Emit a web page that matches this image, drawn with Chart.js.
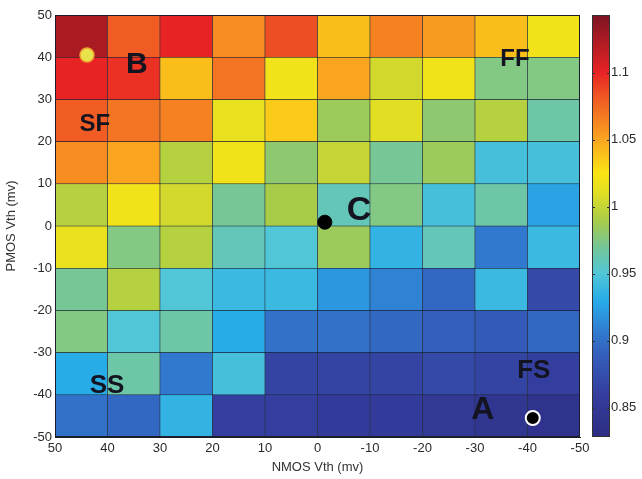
<!DOCTYPE html>
<html><head><meta charset="utf-8">
<script src="https://cdn.jsdelivr.net/npm/chart.js@4.4.1/dist/chart.umd.min.js"></script>
<style>html,body{margin:0;padding:0;background:#fff}#wrap{width:642px;height:479px;position:relative}</style>
</head><body><div id="wrap"><canvas id="c"></canvas></div>
<script>
// ---- data ----
const nmosCenters = [45, 35, 25, 15, 5, -5, -15, -25, -35, -45];   // x cell centres (mv)
const pmosCenters = [45, 35, 25, 15, 5, -5, -15, -25, -35, -45];   // y cell centres (mv)
const rowP45  = [1.125, 1.08, 1.10, 1.06, 1.085, 1.04, 1.065, 1.055, 1.04, 1.02];
const rowP35  = [1.10, 1.095, 1.04, 1.07, 1.02, 1.05, 1.005, 1.02, 0.975, 0.975];
const rowP25  = [1.08, 1.07, 1.065, 1.015, 1.035, 0.985, 1.01, 0.98, 0.995, 0.965];
const rowP15  = [1.06, 1.05, 0.995, 1.02, 0.98, 1.0, 0.97, 0.985, 0.945, 0.945];
const rowP5   = [0.995, 1.02, 1.005, 0.97, 0.99, 0.96, 0.975, 0.945, 0.965, 0.925];
const rowM5   = [1.015, 0.975, 0.995, 0.96, 0.95, 0.985, 0.935, 0.96, 0.905, 0.94];
const rowM15  = [0.97, 0.995, 0.95, 0.94, 0.94, 0.92, 0.91, 0.895, 0.94, 0.87];
const rowM25  = [0.975, 0.95, 0.965, 0.93, 0.9, 0.9, 0.895, 0.89, 0.885, 0.895];
const rowM35  = [0.93, 0.965, 0.905, 0.945, 0.865, 0.865, 0.865, 0.87, 0.865, 0.86];
const rowM45  = [0.9, 0.895, 0.935, 0.86, 0.86, 0.855, 0.855, 0.85, 0.845, 0.84];
const rows = [rowP45, rowP35, rowP25, rowP15, rowP5, rowM5, rowM15, rowM25, rowM35, rowM45];
const axisTicks = [50, 40, 30, 20, 10, 0, -10, -20, -30, -40, -50];
const cbTicks = [0.85, 0.9, 0.95, 1, 1.05, 1.1];
const cbMin = 0.828, cbMax = 1.143;
const markerYellow = [{x: 43.9, y: 40.5}];
const markerC = [{x: -1.4, y: 0.9}];
const markerA = [{x: -41, y: -45.5}];
const labelText = ['B', 'SF', 'FF', 'C', 'SS', 'FS', 'A'];
const labelX    = [34.4, 42.4, -37.6, -7.9, 40.1, -41.2, -31.5];
const labelY    = [38.2, 24.2, 39.6, 3.6, -37.9, -34.4, -43.6];
const labelSize = [30, 24, 24, 34, 26, 26, 32];

// ---- colormap ----
const stops = [
  [0.828, [45, 45, 130]],
  [0.86,  [52, 62, 158]],
  [0.89,  [52, 95, 188]],
  [0.91,  [48, 130, 212]],
  [0.93,  [40, 172, 232]],
  [0.95,  [80, 198, 215]],
  [0.97,  [118, 198, 150]],
  [0.99,  [168, 204, 72]],
  [1.01,  [225, 222, 35]],
  [1.025, [250, 228, 20]],
  [1.05,  [250, 165, 32]],
  [1.08,  [240, 92, 35]],
  [1.10,  [232, 35, 36]],
  [1.143, [125, 20, 35]]
];
function cmapArr(v) {
  if (v <= stops[0][0]) return stops[0][1];
  for (let i = 1; i < stops.length; i++) {
    if (v <= stops[i][0]) {
      const t = (v - stops[i-1][0]) / (stops[i][0] - stops[i-1][0]);
      const a = stops[i-1][1], b = stops[i][1];
      return [0,1,2].map(k => Math.round(a[k] + (b[k]-a[k]) * t));
    }
  }
  return stops[stops.length-1][1];
}
function cmap(v) { const c = cmapArr(v); return `rgb(${c[0]},${c[1]},${c[2]})`; }

const datasets = rows.map((row, i) => ({
  type: 'bar',
  data: nmosCenters.map((x) => ({x: x, y: [pmosCenters[i] - 5, pmosCenters[i] + 5]})),
  backgroundColor: row.map(cmap),
  borderColor: 'rgba(10,20,40,0.9)',
  borderWidth: 0.6,
  borderSkipped: false,
  grouped: false,
  barPercentage: 1,
  categoryPercentage: 1,
  order: 2
}));
datasets.push({type:'scatter', data: markerYellow, pointRadius: 7, pointBackgroundColor:'#e8e24c', pointBorderColor:'#f0a030', pointBorderWidth:1.5, order: 1});
datasets.push({type:'scatter', data: markerC, pointRadius: 7, pointBackgroundColor:'#000', pointBorderColor:'#000', pointBorderWidth:1, order: 1});
datasets.push({type:'scatter', data: markerA, pointRadius: 7, pointBackgroundColor:'#000', pointBorderColor:'#fff', pointBorderWidth:2, order: 1});

const tickFont = {family: 'Liberation Sans, Arial, sans-serif', size: 13};
const tickColor = '#2a2a2a';

const overlay = {
  id: 'overlay',
  afterDraw(chart) {
    const ctx = chart.ctx, ca = chart.chartArea;
    const xs = chart.scales.x, ys = chart.scales.y, cb = chart.scales.cb;
    ctx.save();
    // frame
    ctx.strokeStyle = '#1a1f2a'; ctx.lineWidth = 1;
    ctx.strokeRect(Math.round(ca.left) + 0.5, Math.round(ca.top) + 0.5, Math.round(ca.right - ca.left) - 1, Math.round(ca.bottom - ca.top) - 1);
    // letters
    ctx.fillStyle = '#141420';
    ctx.textAlign = 'center'; ctx.textBaseline = 'middle';
    for (let i = 0; i < labelText.length; i++) {
      ctx.font = `bold ${labelSize[i]}px "Liberation Sans", Arial, sans-serif`;
      ctx.fillText(labelText[i], xs.getPixelForValue(labelX[i]), ys.getPixelForValue(labelY[i]));
    }
    // colorbar
    const x0 = 592, x1 = 610;
    const yTop = cb.getPixelForValue(cbMax), yBot = cb.getPixelForValue(cbMin);
    const g = ctx.createLinearGradient(0, yBot, 0, yTop);
    stops.forEach(s => { const c = s[1]; g.addColorStop((s[0]-cbMin)/(cbMax-cbMin), `rgb(${c[0]},${c[1]},${c[2]})`); });
    ctx.fillStyle = g;
    ctx.fillRect(x0, yTop, x1 - x0, yBot - yTop);
    ctx.strokeStyle = '#333'; ctx.lineWidth = 1;
    ctx.strokeRect(x0 + 0.5, Math.round(yTop) + 0.5, x1 - x0 - 1, Math.round(yBot - yTop) - 1);
    cbTicks.forEach(v => {
      const py = Math.round(cb.getPixelForValue(v)) + 0.5;
      ctx.beginPath(); ctx.moveTo(x0, py); ctx.lineTo(x0 + 3, py); ctx.moveTo(x1 - 3, py); ctx.lineTo(x1, py); ctx.stroke();
    });
    ctx.restore();
  }
};

new Chart(document.getElementById('c'), {
  type: 'bar',
  data: {datasets},
  plugins: [overlay],
  options: {
    responsive: true, maintainAspectRatio: false, animation: false,
    layout: {padding: {top: 15, left: 0, right: 0, bottom: 0}},
    plugins: {legend: {display: false}, tooltip: {enabled: false}},
    scales: {
      x: {
        type: 'linear', reverse: true, min: -50, max: 50, offset: false,
        afterBuildTicks: s => { s.ticks = axisTicks.map(v => ({value: v})); },
        afterFit: s => { s.height = 42; },
        grid: {display: false, offset: false, drawTicks: false},
        border: {display: true, color: '#1a1f2a'},
        ticks: {font: tickFont, color: tickColor, padding: 4, maxRotation: 0, autoSkip: false, callback: v => String(v)},
        title: {display: true, text: 'NMOS Vth (mv)', font: {family: 'Liberation Sans, Arial, sans-serif', size: 13}, color: '#333', padding: {top: 0, bottom: 4}}
      },
      y: {
        type: 'linear', min: -50, max: 50,
        afterBuildTicks: s => { s.ticks = axisTicks.map(v => ({value: v})); },
        afterFit: s => { s.width = 55; },
        grid: {display: false, drawTicks: false},
        border: {display: true, color: '#1a1f2a'},
        ticks: {font: tickFont, color: tickColor, padding: 3, autoSkip: false, callback: v => String(v)},
        title: {display: true, text: 'PMOS Vth (mv)', font: {family: 'Liberation Sans, Arial, sans-serif', size: 13}, color: '#333', padding: {top: 4, bottom: 0}}
      },
      cb: {
        type: 'linear', position: 'right', min: cbMin, max: cbMax,
        afterBuildTicks: s => { s.ticks = cbTicks.map(v => ({value: v})); },
        afterFit: s => { s.width = 62; },
        grid: {display: true, drawOnChartArea: false, drawTicks: true, tickLength: 31, color: 'rgba(0,0,0,0)'},
        border: {display: false},
        ticks: {font: tickFont, color: tickColor, padding: 0, autoSkip: false, callback: v => String(v)}
      }
    }
  }
});
</script>
</body></html>
